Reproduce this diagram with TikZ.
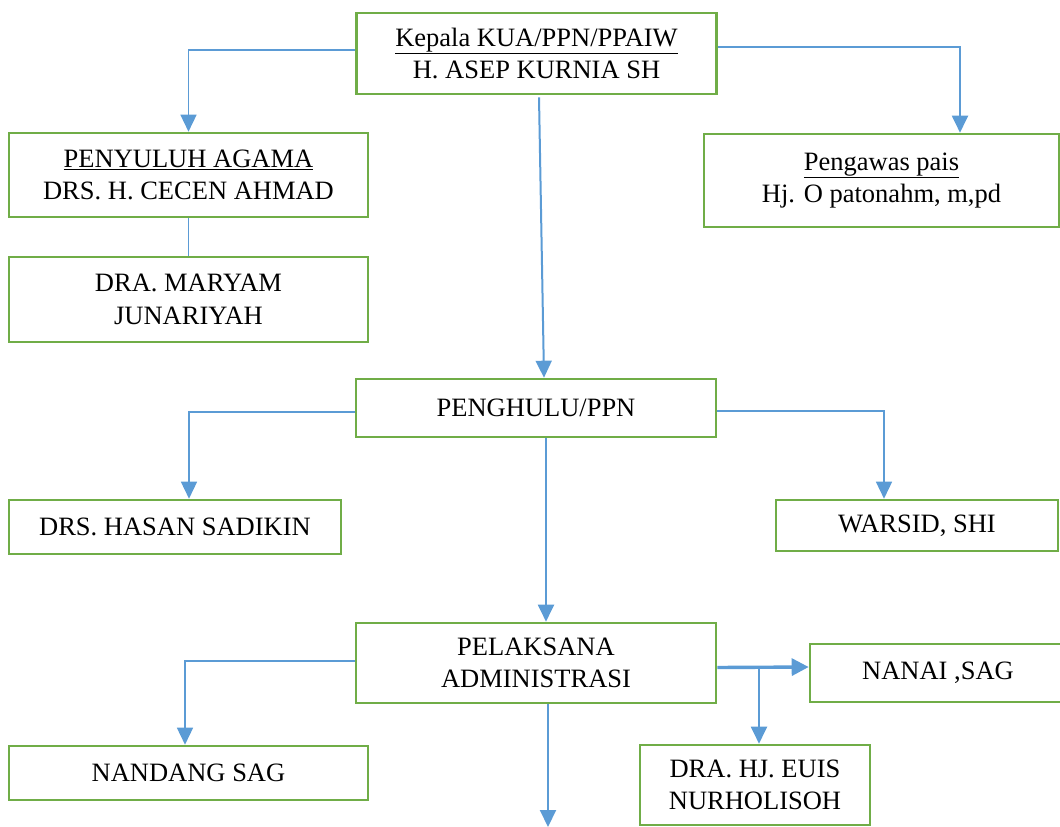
\documentclass[tikz,border=0pt]{standalone}
\usepackage{fontspec}
\setmainfont{Liberation Serif}
\usetikzlibrary{arrows.meta}
\definecolor{boxgreen}{RGB}{112,173,71}
\definecolor{lineblue}{RGB}{91,155,213}
\newcommand{\ulin}[1]{\tikz[baseline=(u.base)]{\node[inner sep=0pt] (u) {#1};\draw[line width=1.6pt] ([yshift=-2.5pt]u.base west) -- ([yshift=-2.5pt]u.base east);}}
\begin{document}
\begin{tikzpicture}[x=1pt,y=-1pt,
  orgbox/.style={draw=boxgreen,line width=2.6pt,rectangle,inner sep=0pt,align=center,
    font=\fontsize{26.5}{32.5}\selectfont,text=black},
  conn/.style={draw=lineblue,line width=2pt},
  thinconn/.style={draw=lineblue,line width=1.5pt},
  arr/.style={-{Triangle[width=16pt,length=17pt]}}
]
\useasboundingbox (0,0) rectangle (1060,827);
\clip (0,0) rectangle (1060,827);

\node[orgbox,minimum width=360pt,minimum height=81pt] (kepala) at (536.5,53.5)
  {\underline{Kepala KUA/PPN/PPAIW}\\H. ASEP KURNIA SH};
\node[orgbox,minimum width=359pt,minimum height=84pt] (penyuluh) at (188.5,175)
  {\underline{PENYULUH AGAMA}\\DRS. H. CECEN AHMAD};
\node[orgbox,minimum width=359pt,minimum height=85pt] (maryam) at (188.5,299.5)
  {DRA. MARYAM\\JUNARIYAH};
\node[orgbox,minimum width=355pt,minimum height=93pt] (pengawas) at (881.5,180.5)
  {\underline{Pengawas pais}\\Hj. O patonahm, m,pd};
\node[orgbox,minimum width=360pt,minimum height=58pt] (penghulu) at (536,408)
  {PENGHULU/PPN};
\node[orgbox,minimum width=332pt,minimum height=54pt] (hasan) at (175,527)
  {DRS. HASAN SADIKIN};
\node[orgbox,minimum width=282pt,minimum height=51pt] (warsid) at (917,525.5)
  {WARSID, SHI};
\node[orgbox,minimum width=360pt,minimum height=80pt] (pelaksana) at (536,663)
  {PELAKSANA\\ADMINISTRASI};
\node[orgbox,minimum width=359pt,minimum height=54pt] (nandang) at (188.5,773)
  {NANDANG SAG};
\node[orgbox,minimum width=256pt,minimum height=58pt] (nanai) at (938,673)
  {NANAI ,SAG};
\node[orgbox,minimum width=230pt,minimum height=80pt] (euis) at (755,785)
  {DRA. HJ. EUIS\\NURHOLISOH};

\coordinate (br) at (759,668);
\coordinate (bot) at (548,827);

% Kepala connectors
\draw[thinconn,arr] ([yshift=3.5pt]kepala.west) -| (penyuluh.north);
\draw[conn,arr] ([yshift=6.5pt]kepala.east) -| ([xshift=78.5pt]pengawas.north);
\draw[conn,arr] ([shift={(2.5,2)}]kepala.south) -- ([xshift=8pt]penghulu.north);
\draw[thinconn] (penyuluh.south) -- (maryam.north);

% Penghulu connectors
\draw[thinconn,arr] ([yshift=-4pt]penghulu.west) -| ([xshift=14pt]hasan.north);
\draw[thinconn,arr] ([yshift=-3pt]penghulu.east) -| ([xshift=-33pt]warsid.north);
\draw[conn,arr] ([xshift=10pt]penghulu.south) -- ([xshift=10pt]pelaksana.north);

% Pelaksana connectors
\draw[thinconn,arr] ([yshift=2pt]pelaksana.west) -| ([xshift=-3.5pt]nandang.north);
\draw[draw=lineblue,line width=3.4pt,-{Triangle[width=17pt,length=17pt]}] ([yshift=-4.5pt]pelaksana.east) -- ([yshift=6pt]nanai.west);
\draw[conn,arr] (br) -- ([xshift=4pt]euis.north);
\draw[conn,arr] ([xshift=12pt]pelaksana.south) -- (bot);
\end{tikzpicture}
\end{document}
